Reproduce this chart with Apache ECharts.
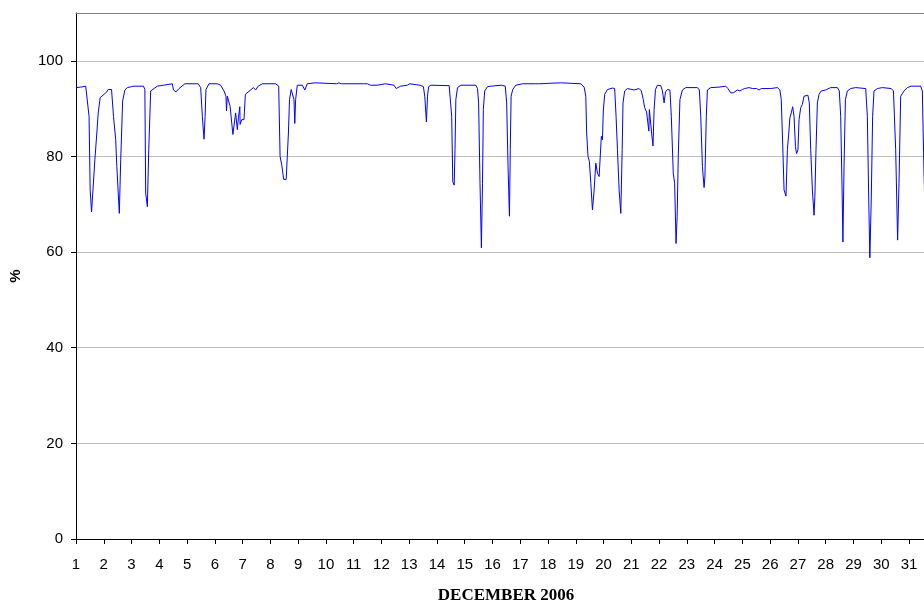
<!DOCTYPE html>
<html>
<head>
<meta charset="utf-8">
<script src="https://cdn.jsdelivr.net/npm/echarts@6/dist/echarts.min.js"></script>
<style>html,body{margin:0;padding:0;background:#fff;}#c{width:924px;height:603px;}</style>
</head>
<body>
<div id="c"></div>
<script>
const dayTicks = [1,2,3,4,5,6,7,8,9,10,11,12,13,14,15,16,17,18,19,20,21,22,23,24,25,26,27,28,29,30,31];
const yTicks = [0,20,40,60,80,100];
const xTitle = 'DECEMBER 2006';
const yTitle = '%';

const days = [
1.00,1.17,1.35,1.41,1.47,1.51,1.56,1.60,1.68,1.75,1.80,1.87,2.01,2.11,2.16,2.28,2.35,2.43,2.47,2.56,
2.61,2.68,2.76,2.85,3.00,3.09,3.43,3.48,3.51,3.57,3.62,3.69,3.81,3.93,4.15,4.20,4.47,4.51,4.60,4.71,
4.92,5.40,5.44,5.49,5.55,5.61,5.65,5.68,5.79,6.09,6.13,6.21,6.33,6.40,6.42,6.45,6.55,6.65,6.72,6.75,
6.81,6.85,6.90,6.91,6.97,7.05,7.10,7.29,7.39,7.47,7.56,7.71,8.19,8.25,8.30,8.35,8.41,8.45,8.48,8.52,
8.57,8.61,8.65,8.69,8.75,8.82,8.85,8.88,8.91,8.97,9.15,9.24,9.33,9.61,9.67,10.39,10.47,10.56,11.35,11.40,
11.49,11.61,11.85,11.90,12.15,12.22,12.45,12.49,12.53,12.60,12.69,12.93,13.02,13.25,13.39,13.44,13.51,13.56,13.62,13.66,
13.70,13.78,14.44,14.50,14.53,14.57,14.62,14.65,14.68,14.74,14.86,15.40,15.46,15.50,15.55,15.60,15.64,15.67,15.72,15.82,
15.94,16.32,16.39,16.46,16.51,16.56,16.61,16.64,16.67,16.73,16.84,17.08,17.56,17.62,17.65,18.04,18.10,18.46,18.52,19.18,
19.30,19.36,19.39,19.44,19.49,19.54,19.60,19.66,19.72,19.78,19.84,19.87,19.92,19.96,19.99,20.04,20.14,20.32,20.40,20.45,
20.50,20.56,20.62,20.67,20.70,20.76,20.86,21.10,21.28,21.36,21.43,21.48,21.55,21.60,21.63,21.65,21.70,21.73,21.78,21.82,
21.87,21.94,22.06,22.12,22.18,22.23,22.30,22.39,22.44,22.51,22.56,22.61,22.65,22.69,22.75,22.84,22.96,23.38,23.45,23.50,
23.56,23.62,23.65,23.70,23.74,23.86,24.16,24.19,24.40,24.48,24.58,24.67,24.82,24.91,25.00,25.08,25.15,25.24,25.36,25.42,
25.51,25.60,25.68,26.02,26.08,26.26,26.35,26.40,26.45,26.50,26.57,26.62,26.67,26.71,26.76,26.81,26.86,26.91,26.95,27.00,
27.04,27.10,27.16,27.22,27.28,27.36,27.41,27.46,27.52,27.58,27.61,27.65,27.70,27.76,27.84,28.00,28.18,28.42,28.49,28.54,
28.59,28.62,28.66,28.71,28.78,28.90,29.08,29.44,29.50,29.55,29.59,29.64,29.69,29.74,29.86,30.04,30.36,30.44,30.52,30.59,
30.64,30.70,30.82,30.94,31.08,31.42,31.48,31.54,31.58
];
const values = [
94.4,94.5,94.7,94.4,88.4,73.0,68.4,68.6,79.3,84.9,89.1,92.3,93.0,93.5,94.0,94.0,88.4,83.5,77.9,68.1,
79.3,91.6,93.9,94.4,94.6,94.7,94.7,94.0,72.3,69.5,81.4,93.7,94.2,94.7,94.9,95.2,95.2,93.9,93.5,94.2,
95.2,95.2,95.4,94.4,88.4,83.6,88.4,94.0,95.2,95.2,95.4,94.9,93.7,92.6,89.5,92.6,90.5,84.6,84.9,89.1,
85.6,88.1,90.4,86.7,87.7,87.7,93.0,93.9,94.4,93.9,94.7,95.2,95.2,95.4,94.7,80.0,78.2,78.5,75.2,75.6,
75.2,75.2,84.9,91.9,94.0,93.7,91.9,86.9,91.9,94.9,94.9,93.9,95.2,95.4,95.2,95.2,95.4,95.2,95.2,95.4,
95.2,94.9,94.9,95.2,95.2,94.9,94.9,95.2,94.2,93.9,94.7,94.9,95.2,95.0,94.9,95.2,94.6,92.6,87.2,92.6,
94.6,94.9,94.8,94.4,88.4,74.7,74.0,81.4,91.9,94.4,94.9,94.9,94.2,91.2,74.4,60.9,74.4,89.8,93.7,94.6,
94.7,94.9,95.2,94.7,91.2,77.9,67.5,81.4,92.6,94.0,94.9,95.2,95.2,94.9,95.2,95.3,95.4,95.4,95.2,95.2,
94.5,92.6,84.9,80.0,78.9,74.4,68.8,73.0,78.6,76.5,75.8,75.8,84.2,83.5,89.5,93.0,94.0,94.3,94.2,88.4,
81.4,73.0,68.1,81.4,91.2,93.7,94.2,93.9,94.2,93.7,91.9,90.2,89.3,89.2,85.3,89.8,90.2,84.9,82.2,89.8,
94.0,94.9,94.8,93.7,91.2,93.5,94.0,93.9,88.4,76.5,74.4,61.8,67.4,80.0,91.9,93.9,94.4,94.4,93.9,88.4,
77.9,73.5,75.7,88.4,93.9,94.4,94.5,94.7,94.7,94.2,93.3,93.3,93.9,93.7,94.0,94.2,93.9,94.4,94.2,94.4,
94.2,93.9,94.2,94.2,94.4,94.4,93.9,91.9,82.8,73.0,71.7,81.4,84.9,88.1,89.1,90.4,88.4,82.1,80.6,81.4,
87.7,90.2,90.9,92.6,92.8,92.8,91.2,81.4,73.0,67.7,71.6,81.4,91.2,93.0,93.7,93.9,94.4,94.4,93.7,88.4,
73.0,62.1,77.9,91.9,93.7,94.2,94.4,94.2,88.4,70.9,58.8,70.9,88.4,93.7,94.2,94.4,94.2,93.7,81.4,62.5,
74.4,92.6,93.7,94.4,94.7,94.7,93.7,76.5,68.0
];

const X_MIN = 1, X_MAX = 31.54;
const seriesData = days.map((d, i) => [d, values[i]]);

const chart = echarts.init(document.getElementById('c'), null, {renderer: 'canvas'});
chart.setOption({
  animation: false,
  backgroundColor: '#ffffff',
  grid: {left: 76, right: 0, top: 13, bottom: 64, containLabel: false, outerBoundsMode: 'none'},
  xAxis: [{
    type: 'value', min: X_MIN, max: X_MAX, position: 'bottom',
    axisLine: {show: true, onZero: false, lineStyle: {color: '#000', width: 1}},
    axisTick: {show: true, inside: false, length: 5, lineStyle: {color: '#000'}, customValues: dayTicks},
    axisLabel: {customValues: dayTicks, color: '#000', fontSize: 15, fontFamily: 'Liberation Sans, Arial, sans-serif', margin: 18},
    splitLine: {show: false},
    name: xTitle, nameLocation: 'middle', nameGap: 48,
    nameTextStyle: {fontFamily: 'Liberation Serif, Times New Roman, serif', fontWeight: 'bold', fontSize: 17, color: '#000', padding: [0, 0, 0, 12]}
  }, {
    type: 'value', min: X_MIN, max: X_MAX, position: 'top',
    axisLine: {show: true, onZero: false, lineStyle: {color: '#808080', width: 1}},
    axisTick: {show: false}, axisLabel: {show: false}, splitLine: {show: false}
  }],
  yAxis: {
    type: 'value', min: 0, max: 110, interval: 20,
    axisLine: {show: true, lineStyle: {color: '#000', width: 1}},
    axisTick: {show: true, inside: false, length: 5, lineStyle: {color: '#000'}, customValues: yTicks},
    axisLabel: {customValues: yTicks, color: '#000', fontSize: 15, fontFamily: 'Liberation Sans, Arial, sans-serif', margin: 13},
    splitLine: {show: true, lineStyle: {color: '#c0c0c0', width: 1}},
    name: yTitle, nameLocation: 'middle', nameGap: 53, nameRotate: 90,
    nameTextStyle: {fontFamily: 'Liberation Sans, Arial, sans-serif', fontWeight: 'bold', fontSize: 15, color: '#000'}
  },
  series: [{
    type: 'line', xAxisIndex: 0, data: seriesData, showSymbol: false, symbol: 'none',
    lineStyle: {color: '#0000ff', width: 1}, clip: true
  }]
});
</script>
</body>
</html>
